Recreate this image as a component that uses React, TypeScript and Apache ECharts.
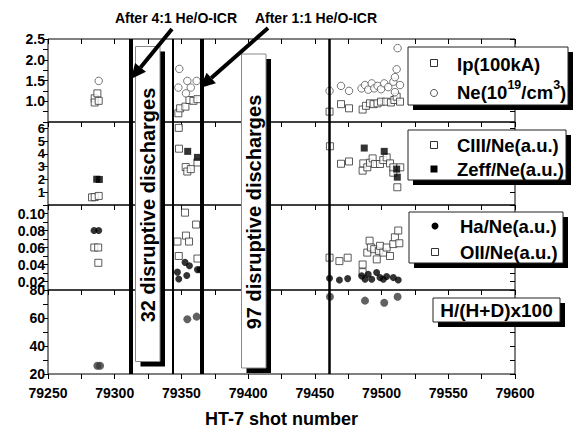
import React, { useEffect, useRef } from "react";
import * as echarts from "echarts";

const FONT = '"Liberation Sans", Arial, sans-serif';

// x range and tick labels
const xMin = 79250;
const xMax = 79600;
const xTickLabels = ["79250", "79300", "79350", "79400", "79450", "79500", "79550", "79600"];

// vertical event lines (shot number, width)
const eventShots = [79312, 79343.5, 79365, 79461];
const eventWidths = [4, 2, 4, 2.5];

// Panel 1: Ip (100kA) and Ne (10^19/cm^3)
const ip: [number, number][] = [
  [79285, 1.07], [79287, 1.19], [79285, 0.97], [79288, 1.01],
  [79347.7, 0.71], [79349, 0.83], [79353, 0.87], [79356, 1.03], [79359, 1.01], [79362, 1.05],
  [79461, 0.75], [79469.6, 0.93], [79475.6, 0.83], [79485.8, 0.8], [79488.3, 0.89], [79491.3, 0.95],
  [79494, 0.93], [79497, 0.95], [79499.6, 0.99], [79503.5, 0.99], [79507, 0.97], [79509.6, 1.03],
  [79511.3, 1.11], [79513.8, 0.99],
];
const ne: [number, number][] = [
  [79288, 1.49],
  [79348.4, 1.78], [79347.7, 1.33], [79354.4, 1.49], [79357, 1.33], [79353.4, 1.19], [79361.4, 1.49],
  [79461, 1.25], [79469.6, 1.37], [79475.6, 1.25], [79485, 1.31], [79487.6, 1.39], [79490, 1.28],
  [79492.6, 1.43], [79494.5, 1.31], [79497, 1.37], [79499.6, 1.29], [79502, 1.43], [79505, 1.34],
  [79508.8, 1.47], [79510, 1.58], [79511.3, 1.77], [79512, 2.28], [79513.8, 1.39], [79510, 1.22],
];

// Panel 2: CIII/Ne and Zeff/Ne
const ciii: [number, number][] = [
  [79283, 0.6], [79285, 0.62], [79288, 0.71],
  [79348, 6.04], [79348.2, 4.41], [79353.2, 2.97], [79354.4, 2.62], [79357, 2.81], [79362, 3.33],
  [79461.3, 4.6], [79469.6, 3.23], [79475.6, 3.41], [79485.8, 2.69], [79486.3, 3.26], [79489.3, 2.95],
  [79491.3, 3.31], [79493.3, 3.65], [79495, 3.21], [79498.8, 3.21], [79501.3, 3.52], [79503.8, 3.73],
  [79506.3, 3.26], [79508.8, 2.53], [79508.8, 2.95], [79511.8, 1.39], [79514, 2.95],
];
const zeff: [number, number][] = [
  [79286.5, 2.02], [79288.5, 2.0],
  [79354.7, 4.2], [79362, 3.73],
  [79487, 4.46], [79502, 4.2], [79511.3, 2.81], [79511.8, 2.18],
];

// Panel 3: Ha/Ne and OII/Ne
const ha: [number, number][] = [
  [79284.5, 0.08], [79288, 0.08],
  [79352.7, 0.0425], [79356, 0.0385], [79347, 0.031], [79354, 0.027], [79348, 0.023], [79362, 0.034], [79364, 0.034],
  [79461, 0.0238], [79468.4, 0.0218], [79474.6, 0.0234], [79485.1, 0.0266], [79487.6, 0.0226], [79490, 0.0286],
  [79492.6, 0.0226], [79496.3, 0.0306], [79498.8, 0.0246], [79501.3, 0.0226], [79503.8, 0.0258],
  [79508.8, 0.0246], [79512.5, 0.0218],
];
const oii: [number, number][] = [
  [79284.7, 0.06], [79287.6, 0.06], [79287.7, 0.042],
  [79352.7, 0.101], [79361, 0.087], [79353.4, 0.074], [79347, 0.067], [79355.7, 0.067], [79348, 0.05], [79362, 0.047],
  [79461, 0.048], [79468.4, 0.044], [79474.6, 0.048], [79485.8, 0.04], [79485.8, 0.031], [79491, 0.068],
  [79489.3, 0.054], [79492, 0.06], [79494.5, 0.058], [79498, 0.056], [79498.8, 0.062], [79501.3, 0.054],
  [79503.8, 0.06], [79506.3, 0.05], [79508.8, 0.064], [79510, 0.072], [79512.5, 0.08], [79513.3, 0.065],
  [79496.4, 0.046],
];

// Panel 4: H/(H+D) x100
const hhd: [number, number][] = [
  [79287, 25.9], [79289, 25.9], [79354.4, 59.1], [79361.4, 61],
  [79461.3, 75.2], [79487.6, 72.4], [79502, 70.9], [79512, 75.2],
];

// y axes: [min, max, interval]
const yRanges: [number, number, number][] = [
  [0.5, 2.5, 0.25],
  [0, 6.5, 1],
  [0.01, 0.11, 0.01],
  [20, 80, 10],
];
const yLabelSizes = [14, 13, 14, 14];

const near = (a: number, b: number) => Math.abs(a - b) < 1e-6;
const yFormatters = [
  (v: number) => (near(v * 2, Math.round(v * 2)) && v > 0.6 ? v.toFixed(1) : ""),
  (v: number) => (near(v, Math.round(v)) && v <= 6 ? String(Math.round(v)) : ""),
  (v: number) => {
    const k = Math.round(v * 100);
    return near(v * 100, k) && k % 2 === 0 && k >= 2 && k <= 10 ? v.toFixed(2) : "";
  },
  (v: number) => (near(v / 20, Math.round(v / 20)) ? String(Math.round(v)) : ""),
];

const grids = [
  { left: 48, top: 39, width: 467, height: 83 },
  { left: 48, top: 122, width: 467, height: 83 },
  { left: 48, top: 205, width: 467, height: 85 },
  { left: 48, top: 290, width: 467, height: 84 },
];

function arrow(x1: number, y1: number, x2: number, y2: number) {
  const dx = x2 - x1, dy = y2 - y1;
  const L = Math.hypot(dx, dy);
  const ux = dx / L, uy = dy / L;
  const hl = 15, hw = 7;
  const bx = x2 - ux * hl, by = y2 - uy * hl;
  return [
    { type: "line", z: 110, shape: { x1, y1, x2: bx, y2: by }, style: { stroke: "#000", lineWidth: 4 } },
    {
      type: "polygon", z: 110,
      shape: { points: [[x2, y2], [bx - uy * hw, by + ux * hw], [bx + uy * hw, by - ux * hw]] },
      style: { fill: "#000" },
    },
  ];
}

function shadowBox(x: number, y: number, w: number, h: number, stroke = "#222") {
  return [
    { type: "rect", z: 100, shape: { x: x + 5, y: y + 5, width: w, height: h }, style: { fill: "#000" } },
    { type: "rect", z: 101, shape: { x, y, width: w, height: h }, style: { fill: "#fff", stroke, lineWidth: 1 } },
  ];
}

function legText(x: number, y: number, text: string, extra: any = {}) {
  return {
    type: "text", z: 102, x, y,
    style: {
      text, fontSize: 18.5, fontWeight: "bold", fontFamily: FONT, fill: "#000",
      align: "left", verticalAlign: "middle", ...extra,
    },
  };
}

function vText(x: number, y: number, text: string) {
  return {
    type: "text", z: 102, x, y, rotation: Math.PI / 2,
    style: {
      text, fontSize: 20, fontWeight: "bold", fontFamily: FONT, fill: "#000",
      align: "center", verticalAlign: "middle",
    },
  };
}

const openSq = { color: "#fff", borderColor: "#333", borderWidth: 1 };

export default function App() {
  const ref = useRef<HTMLDivElement>(null);
  useEffect(() => {
    const chart = echarts.init(ref.current!, null, { renderer: "svg" });
    const xBase: any = {
      type: "value", min: xMin, max: xMax, interval: 25,
      axisLine: { show: false }, splitLine: { show: false },
      axisTick: { show: true, inside: false, length: 5, lineStyle: { color: "#000", width: 1 } },
      axisLabel: { show: false },
    };
    const xAxis: any[] = [
      { ...xBase, gridIndex: 0 },
      { ...xBase, gridIndex: 1 },
      { ...xBase, gridIndex: 2 },
      {
        ...xBase, gridIndex: 3,
        axisLabel: {
          show: true, fontSize: 14, fontWeight: "bold", fontFamily: FONT, color: "#000", margin: 12,
          formatter: (v: number) => (xTickLabels.includes(String(Math.round(v))) ? String(Math.round(v)) : ""),
        },
        name: "HT-7 shot number", nameLocation: "middle", nameGap: 36,
        nameTextStyle: { fontSize: 18, fontWeight: "bold", fontFamily: FONT, color: "#000" },
      },
      { ...xBase, gridIndex: 0, position: "top", axisTick: { ...xBase.axisTick, inside: true } },
    ];
    const yAxis: any[] = [];
    yRanges.forEach(([min, max, interval], i) => {
      yAxis.push({
        type: "value", gridIndex: i, min, max, interval,
        axisLine: { show: false }, splitLine: { show: false },
        axisTick: { show: true, length: 5, lineStyle: { color: "#000" } },
        axisLabel: {
          fontSize: yLabelSizes[i], lineHeight: 11, fontWeight: "bold", fontFamily: FONT, color: "#000", margin: 3,
          formatter: yFormatters[i],
        },
      });
    });
    yRanges.forEach(([min, max, interval], i) => {
      yAxis.push({
        type: "value", gridIndex: i, min, max, interval, position: "right",
        axisLine: { show: false }, splitLine: { show: false },
        axisTick: { show: true, inside: true, length: 5, lineStyle: { color: "#000" } },
        axisLabel: { show: false },
      });
    });

    const markLine = {
      silent: true, symbol: ["none", "none"], label: { show: false },
      lineStyle: { color: "#000", type: "solid" },
      data: eventShots.map((s, k) => ({ xAxis: s, lineStyle: { width: eventWidths[k], color: "#000", type: "solid" } })),
    };

    const sc = (name: string, idx: number, data: any, symbol: string, size: number, itemStyle: any, withLines = false) => ({
      name, type: "scatter", xAxisIndex: idx, yAxisIndex: idx, data, symbol, symbolSize: size, itemStyle,
      ...(withLines ? { markLine } : {}),
    });

    const graphic: any[] = [
      { type: "text", z: 110, x: 176, y: 18, style: { text: "After 4:1 He/O-ICR", fontSize: 14, fontWeight: "bold", fontFamily: FONT, fill: "#000", align: "center", verticalAlign: "middle" } },
      { type: "text", z: 110, x: 316, y: 18, style: { text: "After 1:1 He/O-ICR", fontSize: 14, fontWeight: "bold", fontFamily: FONT, fill: "#000", align: "center", verticalAlign: "middle" } },
      ...arrow(172, 29, 131, 79),
      ...arrow(268, 28, 200, 88),
      ...shadowBox(135.5, 46.5, 24.5, 315, "#888"),
      vText(148, 205, "32 disruptive discharges"),
      ...shadowBox(241.5, 54, 24.5, 314, "#888"),
      vText(254, 212, "97 disruptive discharges"),
      // legend 1
      ...shadowBox(408, 47, 160, 58),
      { type: "rect", z: 102, shape: { x: 430.5, y: 59.5, width: 7, height: 7 }, style: { fill: "#fff", stroke: "#333", lineWidth: 1 } },
      legText(457, 64, "Ip(100kA)"),
      { type: "circle", z: 102, shape: { cx: 434, cy: 93, r: 3.5 }, style: { fill: "#fff", stroke: "#555", lineWidth: 1 } },
      legText(457, 92, "Ne(10{s|19}/cm{s|3})", { lineHeight: 28, rich: { s: { fontSize: 12.5, fontWeight: "bold", fontFamily: FONT, verticalAlign: "top" } } }),
      // legend 2
      ...shadowBox(408, 130, 158, 50),
      { type: "rect", z: 102, shape: { x: 430.5, y: 141.5, width: 7, height: 7 }, style: { fill: "#fff", stroke: "#333", lineWidth: 1 } },
      legText(457, 145, "CIII/Ne(a.u.)"),
      { type: "rect", z: 102, shape: { x: 430.5, y: 165.5, width: 7, height: 7 }, style: { fill: "#000" } },
      legText(457, 169, "Zeff/Ne(a.u.)"),
      // legend 3
      ...shadowBox(409, 212, 154, 51),
      { type: "circle", z: 102, shape: { cx: 435, cy: 226, r: 3.5 }, style: { fill: "#000" } },
      legText(460, 226, "Ha/Ne(a.u.)"),
      { type: "rect", z: 102, shape: { x: 431.5, y: 248.5, width: 7, height: 7 }, style: { fill: "#fff", stroke: "#333", lineWidth: 1 } },
      legText(460, 252, "OII/Ne(a.u.)"),
      // legend 4
      ...shadowBox(433, 298, 127, 24),
      legText(496.5, 310.5, "H/(H+D)x100", { align: "center", fontSize: 19 }),
    ];

    chart.setOption({
      animation: false,
      backgroundColor: "#fff",
      grid: grids.map((g) => ({ ...g, show: true, borderColor: "#000", borderWidth: 1, backgroundColor: "transparent", containLabel: false })),
      xAxis,
      yAxis,
      series: [
        sc("Ip(100kA)", 0, ip, "rect", 7, openSq, true),
        sc("Ne(10^19/cm^3)", 0, ne, "circle", 7.5, { color: "#fff", borderColor: "#555", borderWidth: 1 }),
        sc("CIII/Ne(a.u.)", 1, ciii, "rect", 7, openSq, true),
        sc("Zeff/Ne(a.u.)", 1, zeff, "rect", 7, { color: "#000" }),
        sc("OII/Ne(a.u.)", 2, oii, "rect", 7, openSq),
        sc("Ha/Ne(a.u.)", 2, ha, "circle", 7, { color: "#000" }, true),
        sc("H/(H+D)x100", 3, hhd, "circle", 8, { color: "#3a3a3a" }, true),
      ],
      graphic,
    });
    return () => chart.dispose();
  }, []);
  return <div ref={ref} style={{ position: "fixed", left: 0, top: 0, width: 574, height: 430 }} />;
}
